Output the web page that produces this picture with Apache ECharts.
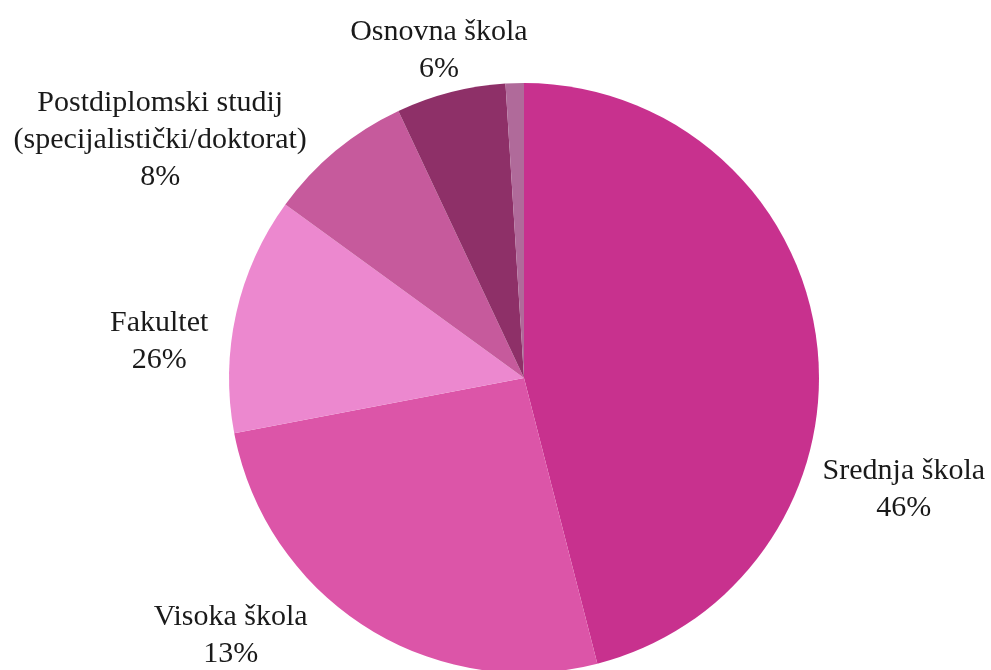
<!DOCTYPE html>
<html>
<head>
<meta charset="utf-8">
<script src="https://cdn.jsdelivr.net/npm/echarts@6/dist/echarts.min.js"></script>
<style>
  html, body { margin: 0; padding: 0; background: #fff; }
  #pie-chart { width: 991px; height: 670px; }
</style>
</head>
<body>
<div id="pie-chart"></div>
<script>
var categories = ['Srednja škola', 'Visoka škola', 'Fakultet', 'Postdiplomski studij\n(specijalistički/doktorat)', 'Osnovna škola', 'Ostalo'];
var values = [46, 26, 13, 8, 6, 1];
// percentages as printed on the labels
var labelPercents = ['46%', '13%', '26%', '8%', '6%', ''];
var colors = ['#C8318E', '#DC55A8', '#EC88CF', '#C65A9C', '#8E3068', '#B06A9A'];

// nudges for the outside labels, in px
var labelShift = [[-11, 150], [-45, 2], [-11, 30], [-15, -4], [88, -34], [0, 0]];

initPie();
function initPie(){
    var dom = document.getElementById('pie-chart');
    var myChart = echarts.init(dom, null, { renderer: 'canvas' });

    var data = categories.map(function (name, i) {
        return {
            name: name,
            value: values[i],
            itemStyle: { color: colors[i] },
            label: { show: labelPercents[i] !== '' }
        };
    });

    var option = {
        animation: false,
        series: [
          {
            type: 'pie',
            center: [524, 378],
            radius: 295,
            startAngle: 90,
            clockwise: true,
            data: data,
            itemStyle: { borderWidth: 0 },
            avoidLabelOverlap: false,
            label: {
              show: true,
              position: 'outside',
              overflow: 'none',
              fontFamily: '"Liberation Serif", serif',
              fontSize: 30,
              lineHeight: 37,
              color: '#1a1a1a',
              formatter: function (p) {
                return p.name + '\n' + labelPercents[p.dataIndex];
              }
            },
            labelLine: { show: false, length: 8, length2: 4 },
            labelLayout: function (p) {
              var s = labelShift[p.dataIndex];
              return {
                x: p.labelRect.x + p.labelRect.width / 2 + s[0],
                y: p.labelRect.y + p.labelRect.height / 2 + s[1],
                align: 'center',
                verticalAlign: 'middle'
              };
            }
          }
        ]
    };

    myChart.setOption(option);
    window.addEventListener('resize', myChart.resize);
}
</script>
</body>
</html>
